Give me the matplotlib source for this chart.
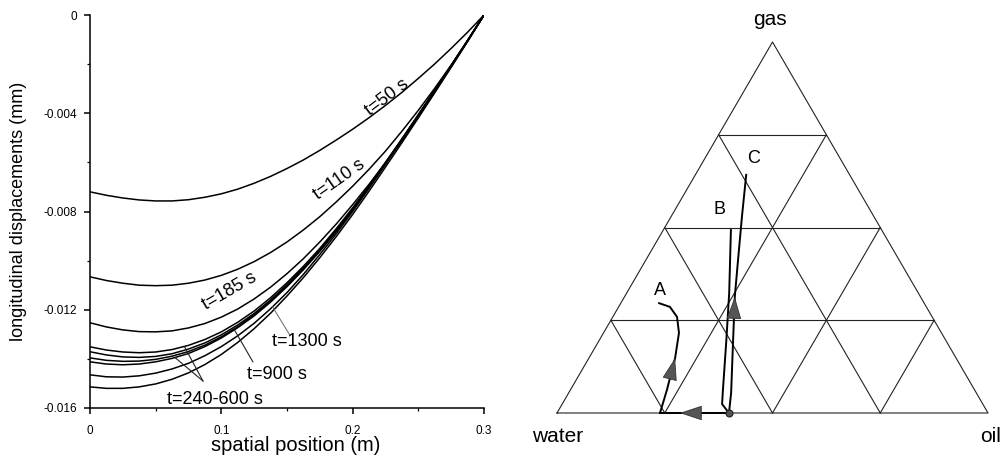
import numpy as np
import matplotlib

matplotlib.use("Agg")
import matplotlib.pyplot as plt
from matplotlib.ticker import MultipleLocator

plt.rcParams["font.family"] = ["Liberation Sans", "DejaVu Sans"]

# left panel: longitudinal displacement (in 1e-3 mm) against spatial position (m)
position_m = [0, 0.0125, 0.025, 0.0375, 0.05, 0.0625, 0.075, 0.0875, 0.1, 0.1125,
              0.125, 0.1375, 0.15, 0.1625, 0.175, 0.1875, 0.2, 0.2125, 0.225,
              0.2375, 0.25, 0.2625, 0.275, 0.2875, 0.3]

disp_t50 = [-7.20, -7.34, -7.45, -7.53, -7.57, -7.57, -7.52, -7.42, -7.28, -7.09,
            -6.85, -6.57, -6.25, -5.90, -5.51, -5.09, -4.65, -4.18, -3.68,
            -3.15, -2.58, -1.99, -1.36, -0.70, 0]
disp_t110 = [-10.66, -10.81, -10.92, -11.00, -11.02, -11.00, -10.92, -10.79, -10.60, -10.35,
             -10.04, -9.67, -9.24, -8.75, -8.21, -7.61, -6.97, -6.28, -5.54,
             -4.73, -3.88, -2.98, -2.04, -1.05, 0]
disp_t185 = [-12.53, -12.70, -12.82, -12.89, -12.90, -12.86, -12.74, -12.56, -12.30, -11.97,
             -11.56, -11.08, -10.53, -9.92, -9.24, -8.51, -7.72, -6.89, -6.01,
             -5.10, -4.14, -3.15, -2.12, -1.08, 0]
disp_t240 = [-13.51, -13.64, -13.72, -13.75, -13.72, -13.62, -13.45, -13.21, -12.90, -12.51,
             -12.05, -11.51, -10.90, -10.23, -9.50, -8.70, -7.85, -6.94, -6.00,
             -5.04, -4.05, -3.06, -2.05, -1.03, 0]
disp_t360 = [-13.71, -13.84, -13.92, -13.94, -13.90, -13.79, -13.60, -13.35, -13.02, -12.62,
             -12.15, -11.60, -10.98, -10.30, -9.55, -8.75, -7.90, -6.98, -6.02,
             -5.06, -4.07, -3.07, -2.06, -1.04, 0]
disp_t480 = [-13.96, -14.06, -14.10, -14.09, -14.02, -13.89, -13.70, -13.44, -13.10, -12.69,
             -12.20, -11.64, -11.02, -10.34, -9.60, -8.79, -7.93, -7.00, -6.04,
             -5.07, -4.08, -3.08, -2.07, -1.04, 0]
disp_t600 = [-14.12, -14.21, -14.24, -14.21, -14.12, -13.98, -13.78, -13.50, -13.15, -12.73,
             -12.25, -11.69, -11.06, -10.37, -9.62, -8.81, -7.95, -7.02, -6.05,
             -5.08, -4.09, -3.09, -2.07, -1.04, 0]
disp_t900 = [-14.65, -14.73, -14.74, -14.69, -14.58, -14.41, -14.18, -13.87, -13.50, -13.06,
             -12.55, -11.96, -11.30, -10.56, -9.75, -8.90, -8.00, -7.05, -6.08,
             -5.10, -4.10, -3.10, -2.08, -1.05, 0]
disp_t1300 = [-15.14, -15.20, -15.20, -15.14, -15.02, -14.83, -14.57, -14.23, -13.82, -13.33,
              -12.77, -12.14, -11.44, -10.69, -9.88, -9.02, -8.12, -7.17, -6.19,
              -5.20, -4.19, -3.16, -2.12, -1.07, 0]

curves = [disp_t50, disp_t110, disp_t185, disp_t240, disp_t360,
          disp_t480, disp_t600, disp_t900, disp_t1300]

y_ticks = [0, -0.004, -0.008, -0.012, -0.016]
y_tick_labels = ["0", "-0.004", "-0.008", "-0.012", "-0.016"]
x_ticks = [0, 0.1, 0.2, 0.3]
x_tick_labels = ["0", "0.1", "0.2", "0.3"]

# right panel: ternary paths (oil and gas fractions, water is the rest)
path_base_oil = [0.399, 0.285, 0.239]
path_base_gas = [0, 0, 0]
path_a_oil = [0.239, 0.224, 0.200, 0.175, 0.149, 0.119, 0.089]
path_a_gas = [0, 0.062, 0.148, 0.216, 0.259, 0.286, 0.296]
path_b_oil = [0.399, 0.371, 0.354, 0.298, 0.238, 0.157]
path_b_gas = [0, 0.024, 0.062, 0.189, 0.323, 0.493]
path_c_oil = [0.399, 0.377, 0.319, 0.256, 0.214, 0.165, 0.118]
path_c_gas = [0, 0.054, 0.178, 0.313, 0.412, 0.528, 0.642]

grid_divisions = 4
corner_labels = ["water", "oil", "gas"]
path_labels = ["A", "B", "C"]

fig = plt.figure(figsize=(10.05, 4.59), dpi=100)

# ---- left panel
ax = fig.add_axes([90 / 1005, 51 / 459, 394 / 1005, 393 / 459])
for c in curves:
    ax.plot(position_m, np.array(c) * 1e-3, color="black", lw=1.1)

ax.set_xlim(0, 0.3)
ax.set_ylim(-0.016, 0)
ax.spines["top"].set_visible(False)
ax.spines["right"].set_visible(False)
ax.spines["left"].set_linewidth(1.1)
ax.spines["bottom"].set_linewidth(1.1)
ax.set_xticks(x_ticks)
ax.set_xticklabels(x_tick_labels)
ax.set_yticks(y_ticks)
ax.set_yticklabels(y_tick_labels)
ax.xaxis.set_minor_locator(MultipleLocator(0.05))
ax.yaxis.set_minor_locator(MultipleLocator(0.002))
ax.tick_params(which="major", direction="out", length=4, width=1.1, labelsize=8.5)
ax.tick_params(which="minor", direction="out", length=2, width=0.9)
ax.tick_params(axis="x", pad=8)
ax.tick_params(axis="y", pad=5)

ax.set_xlabel("spatial position (m)", fontsize=14.5)
ax.xaxis.set_label_coords(0.523, -0.07)
ax.set_ylabel("longitudinal displacements (mm)", fontsize=13)
ax.yaxis.set_label_coords(-0.16, 0.5)

lab = dict(fontsize=13, ha="center", va="center", rotation_mode="anchor")
ax.text(0.226, -0.00334, "t=50 s", rotation=37, **lab)
ax.text(0.190, -0.00671, "t=110 s", rotation=35, **lab)
ax.text(0.106, -0.01123, "t=185 s", rotation=30, **lab)
ax.text(0.165, -0.01331, "t=1300 s", **lab)
ax.text(0.142, -0.01465, "t=900 s", **lab)
ax.text(0.095, -0.01567, "t=240-600 s", **lab)

# pointer lines from the labels to the curves
ax.plot([0.152, 0.139], [-0.01302, -0.01188], color="#666", lw=0.7)
ax.plot([0.124, 0.110], [-0.01412, -0.01282], color="#222", lw=0.8)
ax.plot([0.086, 0.065], [-0.01490, -0.01396], color="#222", lw=0.8)
ax.plot([0.086, 0.072], [-0.01490, -0.01351], color="#222", lw=0.8)

# ---- right panel
tx = fig.add_axes([557 / 1005, 46 / 459, 431 / 1005, 371 / 459])
tx.set_xlim(0, 1)
tx.set_ylim(0, np.sqrt(3) / 2)
tx.axis("off")


def to_xy(oil, gas):
    oil = np.asarray(oil, dtype=float)
    gas = np.asarray(gas, dtype=float)
    return oil + gas / 2, gas * np.sqrt(3) / 2


grid_kw = dict(color="#222", lw=0.8, clip_on=False)
x, y = to_xy([0, 1, 0, 0], [0, 0, 1, 0])
tx.plot(x, y, **grid_kw)
for k in range(1, grid_divisions):
    f = k / grid_divisions
    x, y = to_xy([0, 1 - f], [f, f])
    tx.plot(x, y, **grid_kw)
    x, y = to_xy([f, f], [0, 1 - f])
    tx.plot(x, y, **grid_kw)
    x, y = to_xy([1 - f, 0], [0, 1 - f])
    tx.plot(x, y, **grid_kw)

path_kw = dict(color="black", lw=1.4, clip_on=False)
for oil, gas in [(path_base_oil, path_base_gas), (path_a_oil, path_a_gas),
                 (path_b_oil, path_b_gas), (path_c_oil, path_c_gas)]:
    x, y = to_xy(oil, gas)
    tx.plot(x, y, **path_kw)


def arrow_at(oil, gas, i):
    x, y = to_xy(oil, gas)
    tip = np.array([x[i], y[i]])
    d = tip - np.array([x[i - 1], y[i - 1]])
    d = d / np.hypot(*d)
    tail = tip - d * 0.05
    tx.annotate("", xy=tip, xytext=tail,
                arrowprops=dict(arrowstyle="-|>,head_length=1.45,head_width=0.48",
                                mutation_scale=10, shrinkA=0, shrinkB=0,
                                facecolor="#555", edgecolor="#333", lw=0.6),
                annotation_clip=False)


arrow_at(path_base_oil, path_base_gas, 1)
arrow_at(path_a_oil, path_a_gas, 2)
arrow_at(path_c_oil, path_c_gas, 3)

x0, y0 = to_xy(path_base_oil[:1], path_base_gas[:1])
tx.plot(x0, y0, "o", ms=5, color="#555", mec="#222", mew=0.8, clip_on=False)

tx.text(0.002, -0.056, corner_labels[0], fontsize=15, ha="center", va="center")
tx.text(1.005, -0.056, corner_labels[1], fontsize=15, ha="center", va="center")
tx.text(0.494, 0.919, corner_labels[2], fontsize=15, ha="center", va="center")
tx.text(0.239, 0.285, path_labels[0], fontsize=13, ha="center", va="center")
tx.text(0.376, 0.476, path_labels[1], fontsize=13, ha="center", va="center")
tx.text(0.455, 0.594, path_labels[2], fontsize=13, ha="center", va="center")

fig.savefig("out.png", dpi=100, facecolor="white")
